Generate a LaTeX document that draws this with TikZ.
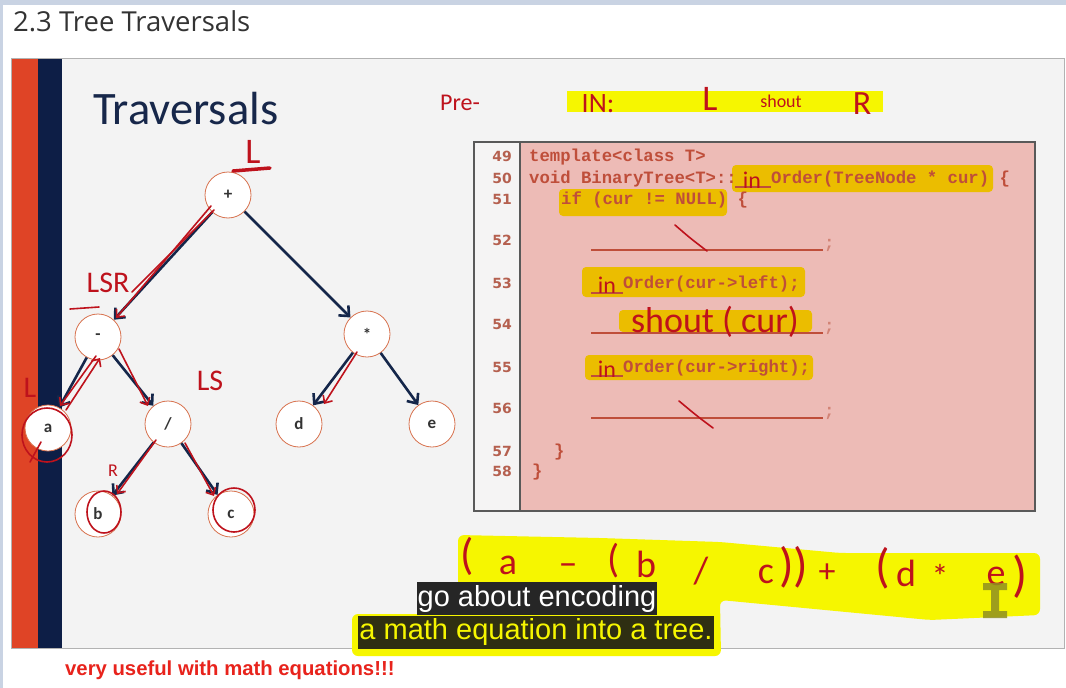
\documentclass[tikz,border=0pt]{standalone}
\usepackage{fontspec}
\usepackage{tikz}
\usetikzlibrary{arrows.meta,positioning}
\setmainfont{Carlito}
\newfontfamily\pagefont{Open Sans}
\newfontfamily\capfont{Liberation Sans}
\newfontfamily\numfont{DejaVu Sans}
\newfontfamily\codefont{Liberation Mono}
\definecolor{pageBand}{HTML}{C9D3E3}
\definecolor{slideGray}{HTML}{F3F3F3}
\definecolor{stripeRed}{HTML}{DF4426}
\definecolor{stripeNavy}{HTML}{0D1E46}
\definecolor{titleNavy}{HTML}{17274A}
\definecolor{arrowNavy}{HTML}{14264A}
\definecolor{nodeRim}{HTML}{D8734F}
\definecolor{inkRed}{HTML}{BE121C}
\definecolor{codePink}{HTML}{EDBBB6}
\definecolor{numColumn}{HTML}{F5F4F4}
\definecolor{codeBrick}{HTML}{BF4E3A}
\definecolor{numBrown}{HTML}{B5604F}
\definecolor{markAmber}{HTML}{EBBD00}
\definecolor{markYellow}{HTML}{F6F600}
\definecolor{capDark}{HTML}{262626}
\definecolor{capOlive}{HTML}{2F2F12}
\definecolor{noteRed}{HTML}{E8231C}
\definecolor{cursorOlive}{HTML}{8F8F22}
\tikzset{
  opnode/.style={circle, draw=nodeRim, line width=0.8pt, fill=white, minimum size=46pt, inner sep=0pt, text=black!80, font=\fontsize{17}{17}\selectfont\bfseries},
  link/.style={-{Straight Barb[length=8pt,width=14pt]}, line width=2.6pt, arrowNavy},
  ink/.style={draw=inkRed, line width=1.6pt, line cap=round, line join=round},
  inkarrow/.style={ink, -{Straight Barb[length=6pt,width=11pt]}},
  hand/.style={text=inkRed, inner sep=0pt, font=\fontsize{30}{30}\selectfont},
  lineno/.style={anchor=base east, inner sep=0pt, text=numBrown, font=\numfont\bfseries\fontsize{14}{14}\selectfont},
  codeline/.style={anchor=base west, inner sep=0pt, text=codeBrick, font=\codefont\bfseries\fontsize{17.3}{17.3}\selectfont},
  blank/.style={draw=codeBrick, line width=1.3pt},
  amber/.style={fill=markAmber, rounded corners=4pt},
  capbox/.style={inner xsep=1pt, inner ysep=0pt, minimum height=33pt, font=\capfont\fontsize{29}{29}\selectfont}
}
\begin{document}
\begin{tikzpicture}[x=1pt,y=-1pt]
  \useasboundingbox (0,0) rectangle (1066,688);
  % page around the slide
  \fill[white] (0,0) rectangle (1066,688);
  \fill[pageBand] (0,0) rectangle (1066,5);
  \fill[pageBand] (0,0) rectangle (3,688);
  \node[anchor=base west, inner sep=0pt, text=black!80, font=\pagefont\fontsize{27.5}{27.5}\selectfont] (pagetitle) at (13,31) {2.3 Tree Traversals};
  % slide
  \draw[fill=slideGray, draw=gray!60] (11,58) rectangle (1064,648);
  \fill[stripeRed] (12,59) rectangle (38,648);
  \fill[stripeNavy] (38,59) rectangle (62,648);
  \node[anchor=base west, inner sep=0pt, text=titleNavy, font=\fontsize{46.5}{46.5}\selectfont] (slidetitle) at (93,124) {Traversals};

  % expression tree
  \node[opnode] (plus) at (228,195) {+};
  \node[opnode] (minus) at (98,337) {-};
  \node[opnode] (times) at (367,334) {*};
  \node[opnode] (leafa) at (48,428) {a};
  \node[opnode] (divide) at (168,424) {/};
  \node[opnode] (leafd) at (299,424) {d};
  \node[opnode] (leafe) at (432,424) {e};
  \node[opnode] (leafb) at (98,514) {b};
  \node[opnode] (leafc) at (231,514) {c};
  \draw[link] (plus) -- (minus);
  \draw[link] (plus) -- (times);
  \draw[link] (minus) -- (leafa);
  \draw[link] (minus) -- (divide);
  \draw[link] (times) -- (leafd);
  \draw[link] (times) -- (leafe);
  \draw[link] (divide) -- (leafb);
  \draw[link] (divide) -- (leafc);

  % pen marks on the tree
  \draw[inkarrow] (211,206) -- (116,318);
  \draw[ink] (214,210) -- (132,292);
  \draw[inkarrow] (96,356) -- (60,406);
  \draw[inkarrow] (66,410) -- (100,358);
  \draw[inkarrow] (119,349) -- (148,406);
  \draw[inkarrow] (156,440) -- (117,494);
  \draw[inkarrow] (185,443) -- (214,496);
  \draw[inkarrow] (357,352) -- (324,404);
  \draw[ink] (47,435) ellipse[x radius=25, y radius=27];
  \draw[ink] (41,442) -- (30,462);
  \draw[ink] (104,512) ellipse[x radius=17, y radius=21];
  \draw[ink] (234,510) ellipse[x radius=21, y radius=22];
  \node[hand, font=\fontsize{36}{36}\selectfont] (markL) at (253,152) {L};
  \draw[ink, line width=3.5pt] (233,171) -- (270,168);
  \node[hand] (markLSR) at (108,283) {LSR};
  \draw[ink] (70,309) -- (99,307);
  \node[hand] (markLa) at (30,388) {L};
  \node[hand] (markLS) at (210,381) {LS};
  \node[hand, font=\fontsize{18}{18}\selectfont] (markR) at (113,471) {R};

  % notes at the top
  \node[hand, font=\fontsize{24}{24}\selectfont] (prenote) at (460,103) {Pre-};
  \fill[markYellow] (567,91) rectangle (883,112);
  \node[hand, font=\fontsize{28}{28}\selectfont] (innote) at (598,104) {IN:};
  \node[hand, font=\fontsize{36}{36}\selectfont] (inL) at (710,99) {L};
  \node[hand, font=\fontsize{18}{18}\selectfont] (inshout) at (781,101) {shout};
  \node[hand, font=\fontsize{34}{34}\selectfont] (inR) at (862,104) {R};

  % code panel
  \draw[fill=codePink, draw=gray!70!black, line width=1.2pt] (474,142) rectangle (1035,511);
  \fill[numColumn] (475,143) rectangle (520,510);
  \draw[gray!70!black, line width=1.2pt] (520,142) -- (520,511);
  \fill[amber] (732,165) rectangle (993,192);
  \fill[amber] (559,189) rectangle (727,216);
  \fill[amber] (582,267) rectangle (805,297);
  \fill[amber] (619,310) rectangle (812,332);
  \fill[amber] (585,355) rectangle (813,380);
  \foreach \n/\y in {49/161,50/183,51/204,52/245,53/288,54/329,55/372,56/413,57/456,58/476}
    \node[lineno] (num\n) at (512,\y) {\n};
  \node[codeline] (code49) at (529,161.5) {template<class T>};
  \node[codeline] (code50) at (529,183.5) {void BinaryTree<T>::};
  \node[codeline] (code50b) at (771,183.5) {Order(TreeNode * cur) \{};
  \node[codeline] (code51) at (561,204.5) {if (cur != NULL) \{};
  \node[codeline] (code53) at (623,288.5) {Order(cur->left);};
  \node[codeline] (code55) at (623,372.5) {Order(cur->right);};
  \node[codeline] (code57) at (554,456.5) {\}};
  \node[codeline] (code58) at (532,476.5) {\}};
  \draw[blank] (735,187) -- (771,187);
  \draw[blank] (591,250) -- (823,250);
  \draw[blank] (591,293) -- (623,293);
  \draw[blank] (591,333) -- (823,333);
  \draw[blank] (591,376) -- (623,376);
  \draw[blank] (591,418) -- (823,418);
  \foreach \y in {248,331,416}
    \node[codeline, text=codeBrick!70] (semi\y) at (824,\y) {;};
  \node[hand, font=\fontsize{24}{24}\selectfont] (in50) at (752,180) {in};
  \node[hand, font=\fontsize{24}{24}\selectfont] (in53) at (607,285) {in};
  \node[hand, font=\fontsize{24}{24}\selectfont] (in55) at (607,369) {in};
  \node[hand, font=\fontsize{36}{36}\selectfont] (shout) at (715,322) {shout ( cur)};
  \draw[ink] (675,225) .. controls (690,238) .. (707,251);
  \draw[ink] (679,401) .. controls (697,416) .. (713,428);

  % the expression, highlighted
  \fill[markYellow, rounded corners=6pt] (458,535) -- (600,538) -- (720,542) -- (840,553) -- (1040,553) -- (1040,615)
    -- (930,620) -- (720,600) -- (721,656) -- (352,656) -- (352,614) -- (458,614) -- cycle;
  \node[hand, font=\fontsize{44}{44}\selectfont] (expA) at (467,556) {(};
  \node[hand, font=\fontsize{38}{38}\selectfont] (expB) at (508,565) {a};
  \node[hand, font=\fontsize{38}{38}\selectfont] (expC) at (568,570) {–};
  \node[hand, font=\fontsize{40}{40}\selectfont] (expD) at (614,561) {(};
  \node[hand, font=\fontsize{38}{38}\selectfont] (expE) at (646,564) {b};
  \node[hand, font=\fontsize{38}{38}\selectfont] (expF) at (701,571) {/};
  \node[hand, font=\fontsize{38}{38}\selectfont] (expG) at (766,574) {c};
  \node[hand, font=\fontsize{48}{48}\selectfont] (expH) at (794,567) {))};
  \node[hand, font=\fontsize{34}{34}\selectfont] (expI) at (827,573) {+};
  \node[hand, font=\fontsize{48}{48}\selectfont] (expJ) at (883,568) {(};
  \node[hand, font=\fontsize{38}{38}\selectfont] (expK) at (906,573) {d};
  \node[hand, font=\fontsize{34}{34}\selectfont] (expL) at (940,576) {*};
  \node[hand, font=\fontsize{38}{38}\selectfont] (expM) at (996,576) {e};
  \node[hand, font=\fontsize{50}{50}\selectfont] (expN) at (1020,577) {)};
  \fill[cursorOlive, opacity=0.85] (983,583) rectangle (1007,590) (991,590) rectangle (999,611) (983,611) rectangle (1007,618);

  % captions
  \node[capbox, fill=capDark, text=white] (capone) at (537,598.5) {go about encoding};
  \node[capbox, fill=capOlive, text=markYellow] (captwo) at (536,632) {a math equation into a tree.};

  \node[anchor=base west, inner sep=0pt, text=noteRed, font=\capfont\bfseries\fontsize{20.3}{20.3}\selectfont] (usenote) at (65,675) {very useful with math equations!!!};
\end{tikzpicture}
\end{document}
